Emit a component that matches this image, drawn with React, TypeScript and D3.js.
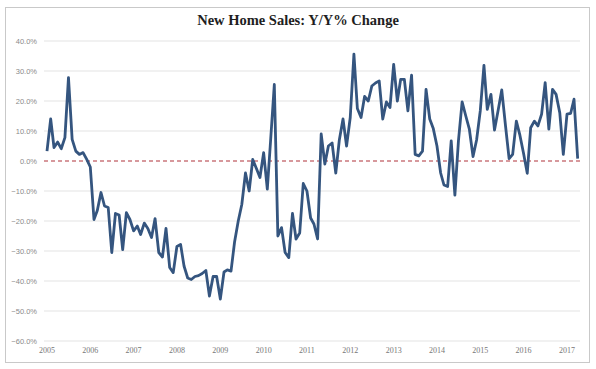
import React from "react";
import * as d3 from "d3";

// monthly Y/Y % change in new home sales, starting Jan 2005
const startYear = 2005;
const yoyChange = [
  3.3, 14, 4.5, 6.3, 4.1, 7.8, 27.8, 7.2, 3.3, 2.2, 2.8, 0.6,
  -2, -19.5, -16.5, -10.5, -15, -15.5, -30.5, -17.5, -18, -29.5, -17.2, -19.5,
  -23.3, -21.7, -24.5, -20.7, -22.5, -25.5, -19.2, -30.5, -32, -22.5, -35.5, -37.2,
  -28.5, -27.8, -35, -39, -39.5, -38.5, -38.2, -37.5, -36.5, -45, -38.5, -38.5,
  -46, -37, -36.3, -36.7, -27, -20, -14.5, -4, -10, 0.5, -2.5, -5.5,
  2.8, -9.4, 7, 25.5, -25, -22.2, -30.5, -32.2, -17.5, -26, -24, -7.5,
  -10, -19, -21, -26, 9, -1, 5, 6, -4, 7, 14, 5,
  14.5, 35.6, 17.5, 14.5, 21.5, 20, 25, 26, 26.7, 14, 19.7, 17.8,
  32.2, 20, 27.2, 27.2, 16.7, 28.6, 2.2, 1.7, 3.3, 23.9, 14, 10.8,
  5, -4, -8, -8.5, 6.7, -11.4, 6.7, 19.7, 15, 10.6, 1.5, 7,
  16.7, 31.9, 17.2, 22.2, 10.3, 17, 23.7, 12, 0.8, 2.2, 13.3, 8.6,
  2.5, -4.1, 11.1, 13.3, 11.7, 15.6, 26.1, 10.6, 23.9, 22.2, 16.1, 2.2,
  15.6, 15.9, 20.6, 0.8,
];
const yearTicks = [2005, 2006, 2007, 2008, 2009, 2010, 2011, 2012, 2013, 2014, 2015, 2016, 2017];
const percentTicks = [40, 30, 20, 10, 0, -10, -20, -30, -40, -50, -60];

const W = 596;
const H = 369;

export default function App() {
  const x = d3
    .scaleTime()
    .domain([new Date(2005, 0, 1), new Date(2017, 0, 1)])
    .range([47, 567]);
  const y = d3.scaleLinear().domain([-60, 40]).range([341, 41]);

  const points = yoyChange.map((v, i) => ({
    date: new Date(startYear, i, 1),
    value: v,
  }));

  const line = d3
    .line<{ date: Date; value: number }>()
    .x((d) => x(d.date))
    .y((d) => y(d.value));

  const fmt = d3.format(".1f");

  return (
    <svg
      width={W}
      height={H}
      style={{ position: "absolute", left: 0, top: 0, background: "#fff" }}
    >
      <defs>
        <filter id="soft" x="-5%" y="-5%" width="110%" height="110%">
          <feGaussianBlur stdDeviation="0.4" />
        </filter>
      </defs>
      <rect x={5.5} y={7.5} width={584} height={355} fill="#fff" stroke="#c9c9c9" />

      <text
        x={298}
        y={25}
        textAnchor="middle"
        fontFamily="Liberation Serif, serif"
        fontWeight="bold"
        fontSize={14.5}
        fill="#1e1e1e"
      >
        New Home Sales: Y/Y% Change
      </text>

      {/* grid lines + y labels */}
      {percentTicks.map((t) => (
        <g key={t}>
          {t !== 0 && (
            <line x1={44} x2={580} y1={y(t)} y2={y(t)} stroke="#e3e3e3" strokeWidth={1} />
          )}
          <text
            x={37}
            y={y(t) + 3}
            textAnchor="end"
            fontFamily="Liberation Sans, sans-serif"
            fontSize={7.5}
            fill="#8a8a8a"
          >
            {fmt(t)}%
          </text>
        </g>
      ))}

      {/* x labels */}
      {yearTicks.map((yr) => (
        <text
          key={yr}
          x={x(new Date(yr, 0, 1))}
          y={353}
          textAnchor="middle"
          fontFamily="Liberation Serif, serif"
          fontSize={8}
          fill="#777"
        >
          {yr}
        </text>
      ))}

      {/* zero line */}
      <line
        x1={44}
        x2={580}
        y1={y(0)}
        y2={y(0)}
        stroke="#b0323a"
        strokeWidth={1.2}
        strokeDasharray="4,3"
      />

      <path
        d={line(points) || ""}
        fill="none"
        stroke="#34557f"
        strokeWidth={2.8}
        strokeLinejoin="round"
        filter="url(#soft)"
      />
    </svg>
  );
}
